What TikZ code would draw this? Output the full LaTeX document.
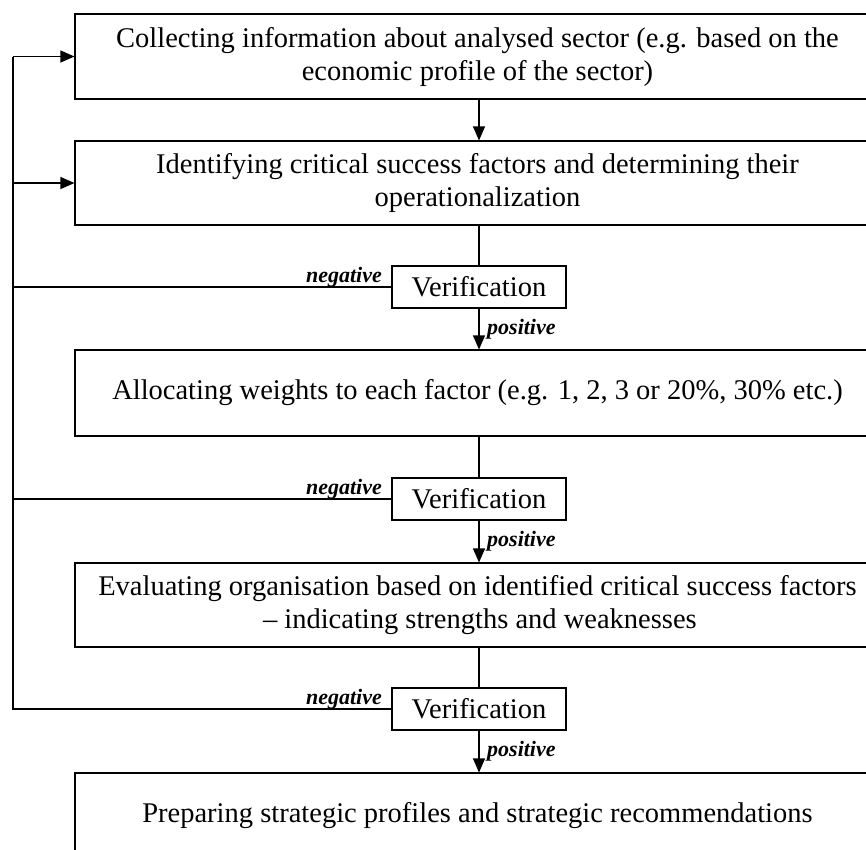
\documentclass[tikz,border=0pt]{standalone}
\usepackage{fontspec}
\setmainfont{Liberation Serif}
\usetikzlibrary{arrows.meta}
\tikzset{
  main/.style={draw, line width=1.1pt, rectangle, minimum width=805pt, align=center,
    font=\fontsize{28.5}{33}\selectfont, inner sep=0pt},
  verif/.style={draw, line width=1.1pt, rectangle, minimum width=174pt, minimum height=42pt,
    inner sep=0pt, font=\fontsize{28.5}{30}\selectfont},
  conn/.style={line width=1.1pt},
  arr/.style={line width=1.1pt, -{Triangle[length=14pt,width=12pt]}},
  lab/.style={font=\fontsize{22}{24}\selectfont\bfseries\itshape, inner sep=0pt}
}
\begin{document}
\begin{tikzpicture}[x=1pt,y=-1pt]
\useasboundingbox (0,0) rectangle (866,849);
\clip (0,0) rectangle (866,849);
\fill[white] (0,0) rectangle (866,849);
\node[main, minimum height=85pt] (b1) at (477.5,56.5) {Collecting information about analysed sector (e.g. based on the\\economic profile of the sector)};
\node[main, minimum height=84pt] (b2) at (477.5,183) {Identifying critical success factors and determining their\\operationalization};
\node[verif] (v1) at (479,287) {Verification};
\node[main, minimum height=86pt] (b3) at (477.5,393) {Allocating weights to each factor (e.g. 1, 2, 3 or 20\%, 30\% etc.)};
\node[verif] (v2) at (479,499) {Verification};
\node[main, minimum height=84pt] (b4) at (477.5,605) {Evaluating organisation based on identified critical success factors\\\,– indicating strengths and weaknesses};
\node[verif] (v3) at (479,709) {Verification};
\node[main, minimum height=85pt] (b5) at (477.5,815.5) {Preparing strategic profiles and strategic recommendations};
\coordinate (l1) at (13,56.5);
\coordinate (l2) at (13,183);
\coordinate (n1) at (13,287);
\coordinate (n2) at (13,499);
\coordinate (n3) at (13,709);
\draw[arr] (b1.south -| v1.north) -- (b2.north -| v1.north);
\draw[conn] (b2.south -| v1.north) -- (v1.north);
\draw[arr] (v1.south) -- (b3.north -| v1.south);
\draw[conn] (b3.south -| v2.north) -- (v2.north);
\draw[arr] (v2.south) -- (b4.north -| v2.south);
\draw[conn] (b4.south -| v3.north) -- (v3.north);
\draw[arr] (v3.south) -- (b5.north -| v3.south);
\draw[conn] (v1.west) -- (n1);
\draw[conn] (v2.west) -- (n2);
\draw[conn] (v3.west) -- (n3) -- (l1);
\draw[arr] (l1) -- (b1.west);
\draw[arr] (l2) -- (b2.west);
\node[lab, anchor=base east] (ng1) at (382,282) {negative};
\node[lab, anchor=base east] (ng2) at (382,494) {negative};
\node[lab, anchor=base east] (ng3) at (382,704) {negative};
\node[lab, anchor=base west] (p1) at (487,334) {positive};
\node[lab, anchor=base west] (p2) at (487,546) {positive};
\node[lab, anchor=base west] (p3) at (487,756) {positive};
\end{tikzpicture}
\end{document}
